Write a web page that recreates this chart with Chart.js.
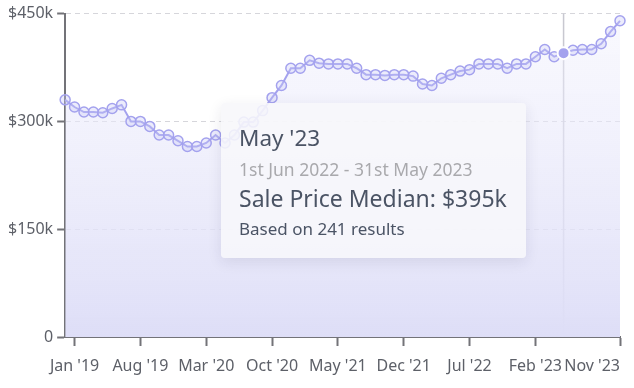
<!DOCTYPE html>
<html>
<head>
<meta charset="utf-8">
<script src="https://cdn.jsdelivr.net/npm/chart.js@4/dist/chart.umd.min.js"></script>
<style>
html, body { margin: 0; padding: 0; background: #fff; }
#wrap { position: relative; width: 634px; height: 388px; }
#tip {
    position: absolute; left: 221px; top: 103px; width: 305px; height: 155px;
    box-sizing: border-box; padding: 20px 18px;
    background: rgba(247, 247, 250, 0.88); border-radius: 4px;
    box-shadow: 0 4px 14px rgba(40, 40, 80, 0.10);
    font-family: "Noto Sans", sans-serif; color: #4b5465;
    pointer-events: none; white-space: nowrap;
}
#tip .t1 { font-size: 22.5px; line-height: 30px; }
#tip .t2 { font-size: 17.5px; line-height: 22px; margin-top: 5px; color: #a9a9ad; }
#tip .t3 { font-size: 23px; line-height: 30px; margin-top: 3px; }
#tip .t4 { font-size: 17px; line-height: 22px; margin-top: 5px; }
</style>
</head>
<body>
<div id="wrap">
    <canvas id="priceChart" width="634" height="388"></canvas>
    <div id="tip"></div>
</div>
<script>
//chart data
const months = [
    "Dec '18",
    "Jan '19", "Feb '19", "Mar '19", "Apr '19", "May '19", "Jun '19", "Jul '19", "Aug '19", "Sep '19", "Oct '19", "Nov '19", "Dec '19",
    "Jan '20", "Feb '20", "Mar '20", "Apr '20", "May '20", "Jun '20", "Jul '20", "Aug '20", "Sep '20", "Oct '20", "Nov '20", "Dec '20",
    "Jan '21", "Feb '21", "Mar '21", "Apr '21", "May '21", "Jun '21", "Jul '21", "Aug '21", "Sep '21", "Oct '21", "Nov '21", "Dec '21",
    "Jan '22", "Feb '22", "Mar '22", "Apr '22", "May '22", "Jun '22", "Jul '22", "Aug '22", "Sep '22", "Oct '22", "Nov '22", "Dec '22",
    "Jan '23", "Feb '23", "Mar '23", "Apr '23", "May '23", "Jun '23", "Jul '23", "Aug '23", "Sep '23", "Oct '23", "Nov '23"
];
const medianPrices = [
    330000,
    320000, 313000, 313000, 312000, 318000, 323000, 300000, 300000, 293000, 281000, 281000, 273000,
    265000, 265000, 270000, 281000, 270000, 281000, 299000, 299000, 315000, 333000, 350000, 374000,
    374000, 385000, 381000, 380000, 380000, 380000, 374000, 365000, 365000, 364000, 365000, 365000,
    363000, 352000, 350000, 360000, 365000, 370000, 372000, 380000, 380000, 380000, 374000, 380000,
    380000, 390000, 400000, 390000, 395000, 399000, 400000, 400000, 408000, 425000, 440000
];
const shownMonths = ["Jan '19", "Aug '19", "Mar '20", "Oct '20", "May '21", "Dec '21", "Jul '22", "Feb '23", "Nov '23"];
const yTicks = [0, 150000, 300000, 450000];

//hovered point
const activeIndex = 53;
const activeRange = "1st Jun 2022 - 31st May 2023";
const activeResults = 241;

const lineColor = "#a4a2ee";
const axisColor = "#737378";
const textColor = "#5d6068";
const fontFamily = "'Noto Sans', sans-serif";

//vertical line at the hovered point
const crosshair = {
    id: "crosshair",
    beforeDatasetsDraw(chart) {
        const active = chart.getActiveElements();
        if (!active.length) return;
        const x = active[0].element.x;
        const {top, bottom} = chart.chartArea;
        const ctx = chart.ctx;
        ctx.save();
        ctx.strokeStyle = "#c8c8d0";
        ctx.lineWidth = 1.5;
        ctx.beginPath();
        ctx.moveTo(x, top);
        ctx.lineTo(x, bottom);
        ctx.stroke();
        ctx.restore();
    }
};

function htmlTooltip({chart, tooltip}) {
    const tip = document.getElementById("tip");
    if (tooltip.opacity === 0 || !tooltip.dataPoints || !tooltip.dataPoints.length) {
        tip.style.opacity = 0;
        return;
    }
    const i = tooltip.dataPoints[0].dataIndex;
    tip.innerHTML =
        '<div class="t1">' + months[i] + '</div>' +
        '<div class="t2">' + activeRange + '</div>' +
        '<div class="t3">Sale Price Median: $' + Math.round(medianPrices[i] / 1000) + 'k</div>' +
        '<div class="t4">Based on ' + activeResults + ' results</div>';
    tip.style.opacity = 1;
}

const chart = new Chart(document.getElementById("priceChart"), {
    type: "line",
    data: {
        labels: months,
        datasets: [{
            label: "Sale Price Median",
            data: medianPrices,
            borderColor: lineColor,
            borderWidth: 2,
            tension: 0,
            fill: true,
            backgroundColor: (ctx) => {
                const area = ctx.chart.chartArea;
                if (!area) return "rgba(225,225,247,0.6)";
                const g = ctx.chart.ctx.createLinearGradient(0, area.top, 0, area.bottom);
                g.addColorStop(0, "rgba(238,238,252,0.35)");
                g.addColorStop(1, "rgba(222,222,247,1)");
                return g;
            },
            pointRadius: 5,
            pointBorderWidth: 1.5,
            pointBorderColor: lineColor,
            pointBackgroundColor: "rgba(200,200,245,0.35)",
            pointHoverRadius: 6,
            pointHoverBorderWidth: 2,
            pointHoverBorderColor: "#ffffff",
            pointHoverBackgroundColor: lineColor
        }]
    },
    options: {
        responsive: false,
        animation: false,
        layout: {padding: {top: 4, right: 14, left: 4, bottom: 2}},
        plugins: {
            legend: {display: false},
            tooltip: {enabled: false, external: htmlTooltip}
        },
        scales: {
            x: {
                offset: false,
                grid: {
                    display: true, drawOnChartArea: false, tickLength: 9, tickWidth: 2,
                    tickColor: (c) => c.index === 0 ? "rgba(0,0,0,0)" : axisColor
                },
                border: {display: true, color: axisColor, width: 2},
                ticks: {
                    autoSkip: false,
                    maxRotation: 0,
                    align: "inner",
                    padding: 12,
                    color: textColor,
                    font: {family: fontFamily, size: 16, lineHeight: 1},
                    callback: (val, i) => i === 0 ? " " : (shownMonths.includes(months[i]) ? months[i] : null)
                }
            },
            y: {
                min: 0,
                max: 450000,
                afterBuildTicks: (axis) => { axis.ticks = yTicks.map(v => ({value: v})); },
                grid: {color: "#d6d6db", lineWidth: 1, tickLength: 8, tickColor: axisColor, tickWidth: 2, tickBorderDash: []},
                border: {display: true, color: axisColor, width: 2, dash: [5, 4]},
                ticks: {
                    padding: 4,
                    color: textColor,
                    font: {family: fontFamily, size: 16},
                    callback: (v) => v === 0 ? "0" : "$" + (v / 1000) + "k"
                }
            }
        }
    },
    plugins: [crosshair]
});

const meta = chart.getDatasetMeta(0);
const pt = meta.data[activeIndex];
chart.setActiveElements([{datasetIndex: 0, index: activeIndex}]);
chart.tooltip.setActiveElements([{datasetIndex: 0, index: activeIndex}], {x: pt.x, y: pt.y});
chart.update();
</script>
</body>
</html>
